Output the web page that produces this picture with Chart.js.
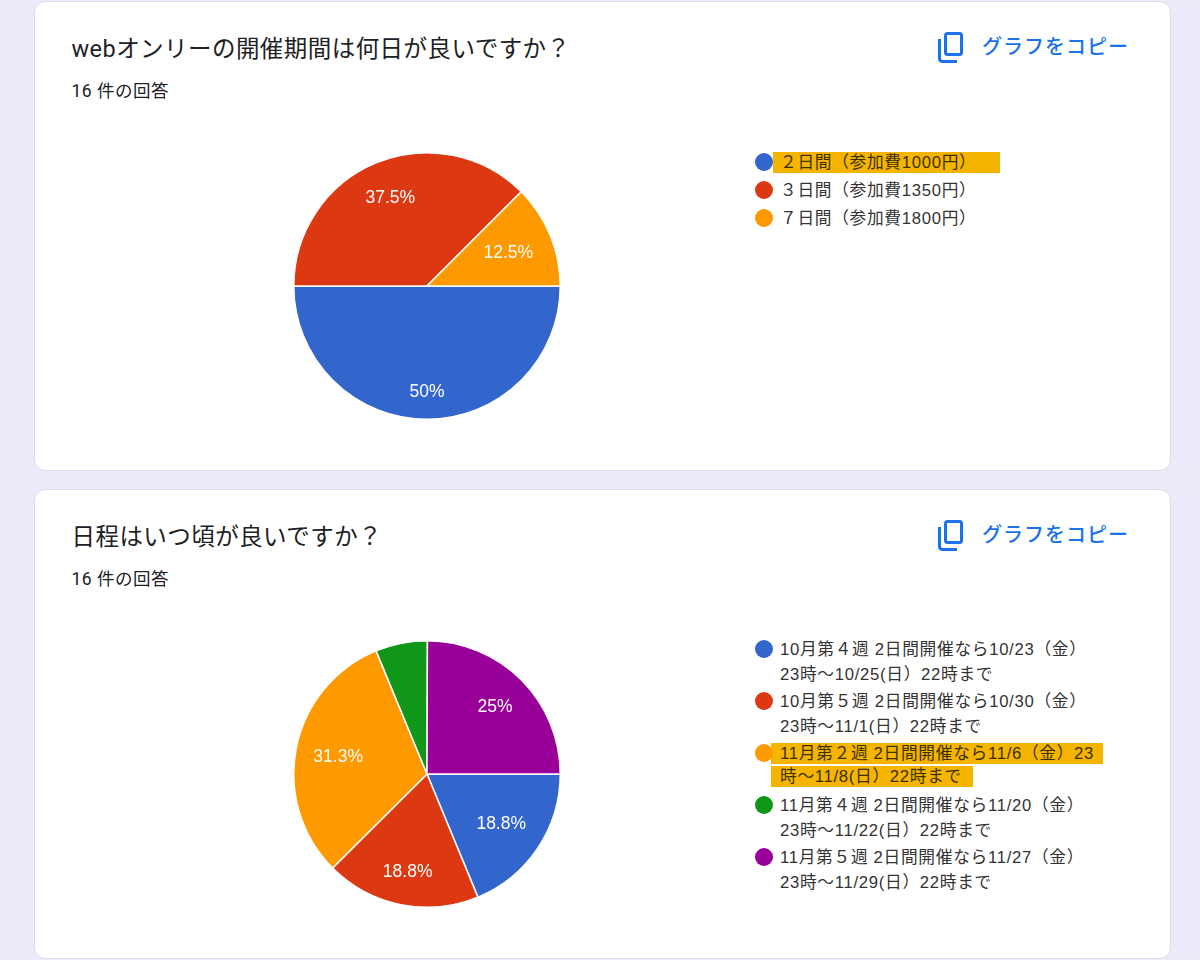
<!DOCTYPE html>
<html lang="ja">
<head>
  <meta charset="UTF-8" />
  <title>アンケート結果</title>
  <script src="https://cdn.jsdelivr.net/npm/chart.js"></script>
  <style>
    * { box-sizing: border-box; }
    html, body { margin: 0; height: 960px; overflow: hidden; }
    body {
      background: #edebfa;
      font-family: Roboto, "Noto Sans CJK JP", sans-serif;
      color: #3c4043;
      position: relative;
    }
    .card {
      position: absolute;
      left: 34px;
      width: 1137px;
      height: 470px;
      background: #fff;
      border: 1px solid #d9dbe3;
      border-radius: 11px;
    }
    .title { position: absolute; left: 36.5px; top: 32px; font-size: 23.5px; letter-spacing: 0.45px; line-height: 30px; color: #202124; white-space: nowrap; }
    .count { position: absolute; left: 36.5px; top: 78px; font-size: 17.5px; letter-spacing: 0.5px; line-height: 22px; color: #202124; white-space: nowrap; }
    .copy { position: absolute; left: 903px; top: 30px; height: 32px; color: #1a73e8; font-size: 20px; font-weight: 500; line-height: 32px; white-space: nowrap; }
    .copy svg { position: absolute; left: 0; top: 0; }
    .copy span { position: absolute; left: 44px; top: -1px; letter-spacing: 1px; }
    canvas { position: absolute; left: 258px; top: 150px; }
    .legend { position: absolute; left: 720px; top: 147px; font-family: "Liberation Sans", "Noto Sans CJK JP", sans-serif; font-size: 16.7px; letter-spacing: 0.7px; line-height: 25px; color: #333; }
    .single { top: 148px; }
    .item { position: relative; padding-left: 25px; margin-bottom: 2px; white-space: nowrap; }
    .single .item { margin-bottom: 3px; }
    .dot { position: absolute; left: 0; top: 3px; width: 18px; height: 18px; border-radius: 50%; }
    .line { display: block; }
    .hl .line span { background: #f4b400; color: #3a3000; padding: 0 9px 0 9px; margin-left: -9px; line-height: 21px; display: inline-block; }
    .hl .line + .line span { position: relative; top: -2px; padding-right: 11px; }
    .single .hl .line span { padding: 0 24px 0 7px; margin-left: -7px; }
  </style>
</head>
<body>
  <div id="cards"></div>

  <script>
    // Chart 1
    const title1 = "webオンリーの開催期間は何日が良いですか？";
    const count1 = "16 件の回答";
    const labels1 = [
      ["２日間（参加費1000円）"],
      ["３日間（参加費1350円）"],
      ["７日間（参加費1800円）"]
    ];
    const values1 = [50, 37.5, 12.5];
    const highlight1 = 0;

    // Chart 2
    const title2 = "日程はいつ頃が良いですか？";
    const count2 = "16 件の回答";
    const labels2 = [
      ["10月第４週 2日間開催なら10/23（金）", "23時～10/25(日）22時まで"],
      ["10月第５週 2日間開催なら10/30（金）", "23時～11/1(日）22時まで"],
      ["11月第２週 2日間開催なら11/6（金）23", "時～11/8(日）22時まで"],
      ["11月第４週 2日間開催なら11/20（金）", "23時～11/22(日）22時まで"],
      ["11月第５週 2日間開催なら11/27（金）", "23時～11/29(日）22時まで"]
    ];
    const values2 = [18.8, 18.8, 31.3, 6.3, 25];
    const highlight2 = 2;

    const colors = ["#3366cc", "#dc3912", "#ff9900", "#109618", "#990099"];
    const copyLabel = "グラフをコピー";

    // how far out each percent label sits, as a share of the radius
    const labelDist1 = [0.79, 0.72, 0.66];
    const labelDist2 = [0.67, 0.74, 0.68, 0, 0.72];

    // percent labels inside the slices, small slices get none
    const sliceLabels = {
      id: "sliceLabels",
      afterDatasetsDraw(chart, args, opts) {
        const ctx = chart.ctx;
        const values = chart.data.datasets[0].data;
        ctx.save();
        ctx.fillStyle = "#fff";
        ctx.font = '17.5px "Liberation Sans", sans-serif';
        ctx.textAlign = "center";
        ctx.textBaseline = "middle";
        chart.getDatasetMeta(0).data.forEach((arc, i) => {
          if (values[i] < 10) return;
          const mid = (arc.startAngle + arc.endAngle) / 2;
          const dist = arc.outerRadius * opts.dist[i];
          ctx.fillText(values[i] + "%", arc.x + Math.cos(mid) * dist, arc.y + Math.sin(mid) * dist + 1);
        });
        ctx.restore();
      }
    };

    function addCard(top, title, count, labels, values, highlight, labelDist) {
      const card = document.createElement("div");
      card.className = "card";
      card.style.top = top + "px";
      const legend = labels.map((lines, i) => `
        <div class="item ${i === highlight ? "hl" : ""}">
          <div class="dot" style="background:${colors[i]}"></div>
          ${lines.map(l => `<span class="line"><span>${l}</span></span>`).join("")}
        </div>`).join("");
      card.innerHTML = `
        <div class="title">${title}</div>
        <div class="count">${count}</div>
        <div class="copy">
          <svg width="26" height="31" viewBox="0 0 26 31" fill="none" stroke="#1a73e8" stroke-width="3">
            <rect x="7.5" y="1.5" width="16" height="21" rx="2"></rect>
            <path d="M1.5 7 V26.5 a3 3 0 0 0 3 3 H19"></path>
          </svg>
          <span>${copyLabel}</span>
        </div>
        <canvas width="268" height="268"></canvas>
        <div class="legend ${labels.length === 3 ? "single" : ""}">${legend}</div>`;
      document.getElementById("cards").appendChild(card);

      new Chart(card.querySelector("canvas"), {
        type: "pie",
        data: {
          labels: labels.map(l => l.join("")),
          datasets: [{ data: values, backgroundColor: colors, borderColor: "#fff", borderWidth: 1.5 }]
        },
        options: {
          responsive: false,
          animation: false,
          rotation: 90,
          plugins: { legend: { display: false }, tooltip: { enabled: false }, sliceLabels: { dist: labelDist } }
        },
        plugins: [sliceLabels]
      });
    }

    addCard(1, title1, count1, labels1, values1, highlight1, labelDist1);
    addCard(489, title2, count2, labels2, values2, highlight2, labelDist2);
  </script>
</body>
</html>
